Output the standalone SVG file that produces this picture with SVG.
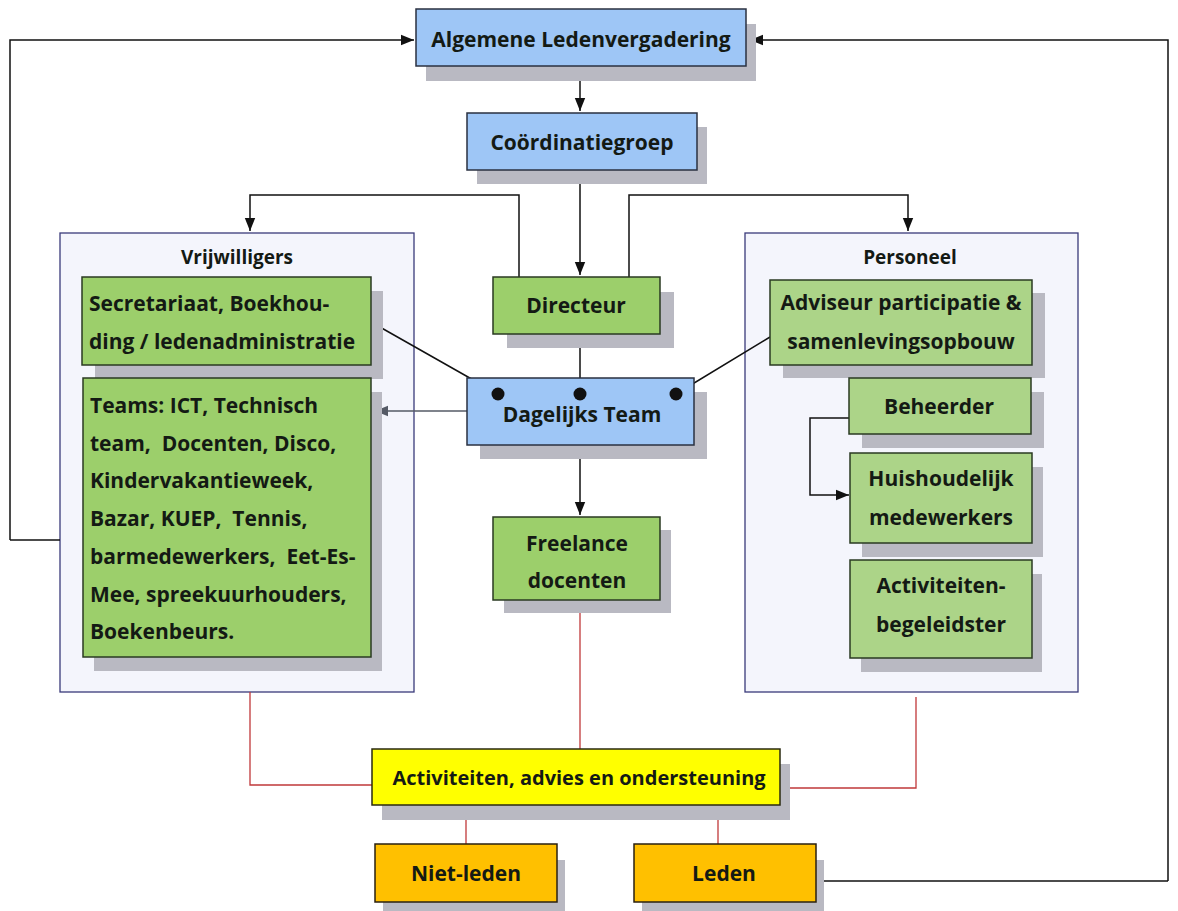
<svg xmlns="http://www.w3.org/2000/svg" width="1178" height="911" viewBox="0 0 1178 911">
<defs>
<style>
text{font-family:"Open Sans",Lato,sans-serif;font-weight:bold;fill:#141a14;text-anchor:middle;white-space:pre}
.t{font-size:21px}
.h{font-size:19px}
.l{text-anchor:start}
.sh{fill:#b9b9c2}
.blue{fill:#9ec6f6;stroke:#2a3040;stroke-width:1.5}
.green{fill:#9ccf6b;stroke:#2a3a22;stroke-width:1.5}
.pgreen{fill:#acd488;stroke:#2a3a22;stroke-width:1.5}
.cont{fill:#f4f5fc;stroke:#3a3a7a;stroke-width:1.3}
.yel{fill:#ffff00;stroke:#2a2a10;stroke-width:1.5}
.org{fill:#ffc000;stroke:#2a2010;stroke-width:1.5}
.c{fill:none;stroke:#111;stroke-width:1.5}
.g{fill:none;stroke:#555a66;stroke-width:1.5}
.r{fill:none;stroke:#c0383a;stroke-width:1.3}
</style>
<marker id="a" viewBox="0 0 10 10" refX="10" refY="5" markerWidth="13" markerHeight="13" markerUnits="userSpaceOnUse" orient="auto"><path d="M0,1L10,5L0,9z" fill="#111"/></marker>
<marker id="ag" viewBox="0 0 10 10" refX="10" refY="5" markerWidth="13" markerHeight="13" markerUnits="userSpaceOnUse" orient="auto"><path d="M0,1L10,5L0,9z" fill="#555a66"/></marker>
</defs>
<rect width="1178" height="911" fill="#fff"/>

<g id="vrijwilligers">
<rect class="cont" x="60" y="233" width="354" height="459"/>
<text class="h" x="237" y="264">Vrijwilligers</text>
</g>
<g id="personeel">
<rect class="cont" x="745" y="233" width="333" height="459"/>
<text class="h" x="910" y="264">Personeel</text>
</g>

<g id="connectors">
<path class="c" d="M10,540V40H414" marker-end="url(#a)"/>
<path class="c" d="M1168,881V40H750" marker-end="url(#a)"/>
<path class="c" d="M816,881H1168"/>
<path class="c" d="M580,66V111" marker-end="url(#a)"/>
<path class="c" d="M580,170V275" marker-end="url(#a)"/>
<path class="c" d="M519,277V195H250V231" marker-end="url(#a)"/>
<path class="c" d="M629,277V195H908V231" marker-end="url(#a)"/>
<path class="c" d="M10,540H60"/>
<path class="c" d="M371,322L498,394M580,334V394M770,337L676,394" stroke="#223"/>
<path class="g" d="M467,411H375" marker-end="url(#ag)"/>
<path class="c" d="M580,455V515" marker-end="url(#a)"/>
<path class="c" d="M849,418H810V495H849" marker-end="url(#a)"/>
<path class="r" d="M580,600V749"/>
<path class="r" d="M250,692V785H372"/>
<path class="r" d="M916,697V788H780"/>
<path class="r" d="M466,815V844"/>
<path class="r" d="M718,815V844"/>
</g>

<g id="algemene">
<rect class="sh" x="426" y="24" width="330" height="57"/>
<rect class="blue" x="416" y="9" width="330" height="57"/>
<text class="t" x="581" y="47">Algemene Ledenvergadering</text>
</g>
<g id="coordinatiegroep">
<rect class="sh" x="477" y="127" width="230" height="57"/>
<rect class="blue" x="467" y="113" width="230" height="57"/>
<text class="t" x="582" y="150">Coördinatiegroep</text>
</g>
<g id="directeur">
<rect class="sh" x="507" y="292" width="167" height="56"/>
<rect class="green" x="493" y="277" width="167" height="57"/>
<text class="t" x="576" y="313">Directeur</text>
</g>
<g id="secretariaat">
<rect class="sh" x="95" y="291" width="288" height="88"/>
<rect class="green" x="82" y="277" width="289" height="88"/>
<text class="t l" x="89" y="311">Secretariaat, Boekhou-</text>
<text class="t l" x="89" y="349">ding / ledenadministratie</text>
</g>
<g id="teams">
<rect class="sh" x="94" y="392" width="288" height="279"/>
<rect class="green" x="83" y="378" width="288" height="279"/>
<text class="t l" x="90" y="413">Teams: ICT, Technisch</text>
<text class="t l" x="90" y="451">team,  Docenten, Disco,</text>
<text class="t l" x="90" y="488">Kindervakantieweek,</text>
<text class="t l" x="90" y="526">Bazar, KUEP,  Tennis,</text>
<text class="t l" x="90" y="564">barmedewerkers,  Eet-Es-</text>
<text class="t l" x="90" y="602">Mee, spreekuurhouders,</text>
<text class="t l" x="90" y="639">Boekenbeurs.</text>
</g>
<g id="dagelijks">
<rect class="sh" x="480" y="392" width="227" height="67"/>
<rect class="blue" x="467" y="378" width="227" height="67"/>
<circle cx="498" cy="394" r="6.5" fill="#111"/>
<circle cx="580" cy="394" r="6.5" fill="#111"/>
<circle cx="676" cy="394" r="6.5" fill="#111"/>
<text class="t" x="582" y="422">Dagelijks Team</text>
</g>
<g id="freelance">
<rect class="sh" x="504" y="530" width="167" height="83"/>
<rect class="green" x="493" y="517" width="167" height="83"/>
<text class="t" x="577" y="551">Freelance</text>
<text class="t" x="577" y="588">docenten</text>
</g>
<g id="adviseur">
<rect class="sh" x="783" y="293" width="262" height="85"/>
<rect class="pgreen" x="770" y="280" width="262" height="85"/>
<text class="t" x="901" y="310">Adviseur participatie &amp;</text>
<text class="t" x="901" y="349">samenlevingsopbouw</text>
</g>
<g id="beheerder">
<rect class="sh" x="862" y="392" width="182" height="56"/>
<rect class="pgreen" x="849" y="378" width="182" height="56"/>
<text class="t" x="939" y="414">Beheerder</text>
</g>
<g id="huishoudelijk">
<rect class="sh" x="862" y="467" width="181" height="90"/>
<rect class="pgreen" x="850" y="453" width="182" height="90"/>
<text class="t" x="941" y="486">Huishoudelijk</text>
<text class="t" x="941" y="525">medewerkers</text>
</g>
<g id="activiteitenbegeleidster">
<rect class="sh" x="861" y="574" width="181" height="98"/>
<rect class="pgreen" x="850" y="560" width="182" height="98"/>
<text class="t" x="941" y="593">Activiteiten-</text>
<text class="t" x="941" y="632">begeleidster</text>
</g>
<g id="activiteiten">
<rect class="sh" x="382" y="764" width="408" height="56"/>
<rect class="yel" x="372" y="749" width="408" height="56"/>
<text class="t" x="579" y="785" font-size="20px" style="font-size:20px">Activiteiten, advies en ondersteuning</text>
</g>
<g id="nietleden">
<rect class="sh" x="383" y="860" width="182" height="51"/>
<rect class="org" x="375" y="844" width="182" height="58"/>
<text class="t" x="466" y="881">Niet-leden</text>
</g>
<g id="leden">
<rect class="sh" x="642" y="860" width="182" height="51"/>
<rect class="org" x="634" y="844" width="182" height="58"/>
<text class="t" x="724" y="881">Leden</text>
</g>
</svg>
